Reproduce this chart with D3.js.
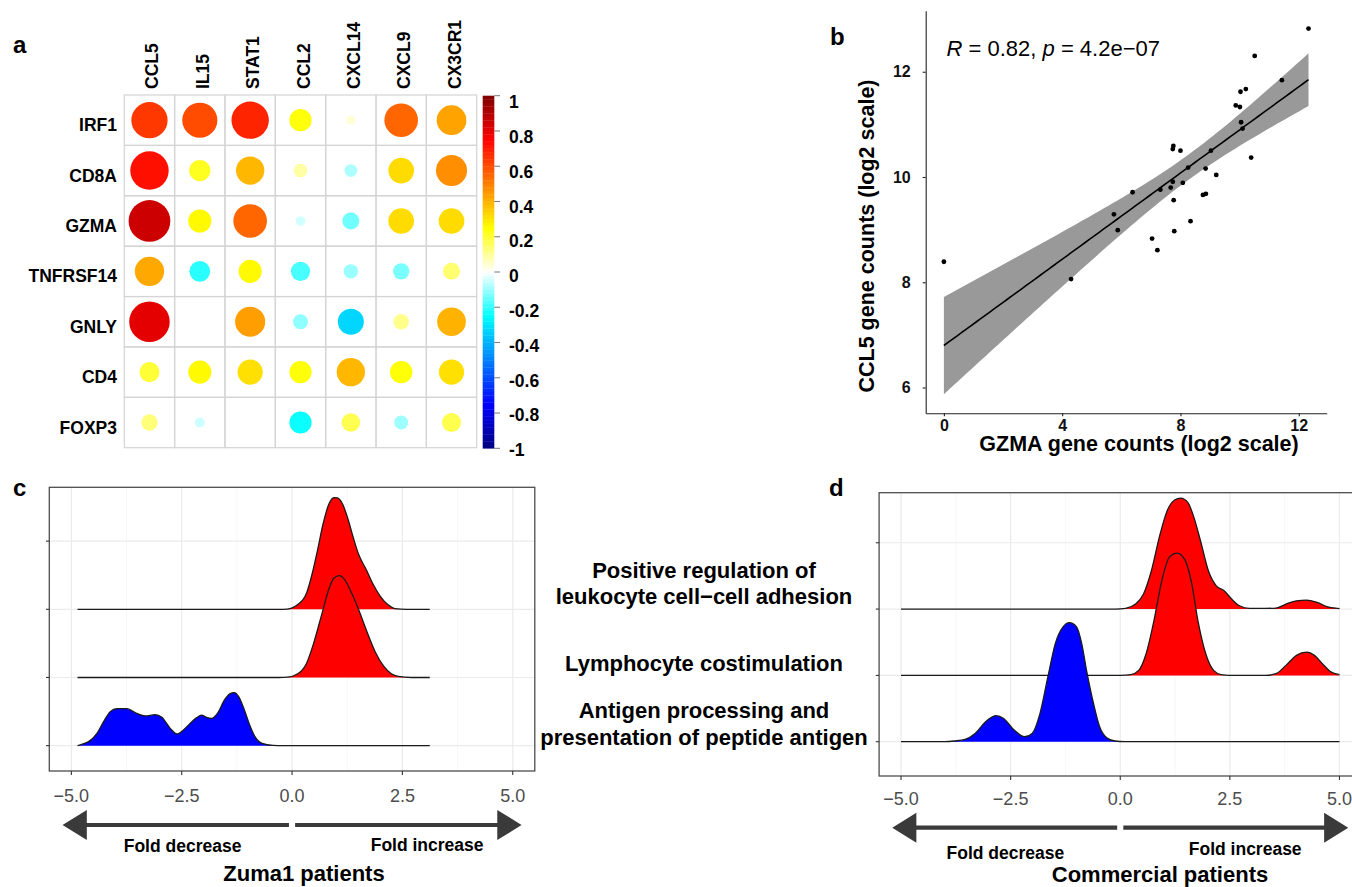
<!DOCTYPE html>
<html><head><meta charset="utf-8">
<script src="https://cdn.jsdelivr.net/npm/d3@7"></script>
<style>
body{margin:0;background:#fff}
svg{display:block;font-family:"Liberation Sans",Arial,Helvetica,sans-serif}
</style>
</head><body>
<svg id="fig" width="1352" height="887"></svg>
<script>
// ---------------- DATA ----------------
// panel a: correlation matrix
const corrRows = ["IRF1","CD8A","GZMA","TNFRSF14","GNLY","CD4","FOXP3"];
const corrCols = ["CCL5","IL15","STAT1","CCL2","CXCL14","CXCL9","CX3CR1"];
const corrValues = [
  [0.64, 0.60, 0.68, 0.24, 0.04, 0.55, 0.43],
  [0.72, 0.22, 0.39, 0.09, -0.08, 0.32, 0.47],
  [0.85, 0.26, 0.55, -0.045, -0.14, 0.32, 0.32],
  [0.42, -0.21, 0.26, -0.18, -0.10, -0.13, 0.14],
  [0.80, 0, 0.44, -0.11, -0.33, 0.115, 0.40],
  [0.195, 0.26, 0.31, 0.24, 0.39, 0.245, 0.31],
  [0.13, -0.05, 0, -0.24, 0.17, -0.095, 0.175]
];
const colorStops = [-1, -0.75, -0.5, -0.25, 0, 0.25, 0.5, 0.75, 1];
const colorRamp = ["#00007F","#0000FF","#007FFF","#00FFFF","#FFFFFF","#FFFF00","#FF7F00","#FF0000","#7F0000"];
const colorbarTicks = [-1,-0.8,-0.6,-0.4,-0.2,0,0.2,0.4,0.6,0.8,1];

// panel b: scatter GZMA vs CCL5 (log2 counts)
const gzma = [0, 4.30, 5.75, 5.88, 6.38, 7.04, 7.22, 7.32, 7.67, 7.74, 7.77, 7.79, 7.76, 7.74, 8.00, 8.08, 8.26, 8.34, 8.76, 8.86, 8.85, 9.03, 9.21, 9.87, 10.01, 10.03, 10.21, 10.05, 10.10, 10.39, 10.51, 11.43, 12.33];
const ccl5 = [8.39, 8.06, 9.29, 8.99, 9.71, 8.83, 8.61, 9.76, 9.80, 9.91, 9.56, 8.97, 10.59, 10.53, 10.50, 9.89, 10.18, 9.16, 9.66, 9.68, 10.16, 10.50, 10.04, 11.36, 11.33, 11.62, 11.67, 11.04, 10.92, 10.37, 12.30, 11.84, 12.82];
const scatterXTicks = [0, 4, 8, 12];
const scatterYTicks = [6, 8, 10, 12];
const tQuantile = 2.0395; // qt(0.975, df = 31)

// panels c/d: ridgelines  [fold change, density height in row units]
const pathways = ["Antigen processing and\npresentation of peptide antigen", "Lymphocyte costimulation", "Positive regulation of\nleukocyte cell\u2212cell adhesion"];
const zumaAntigen = [[-4.86,0],[-4.75,0.022],[-4.61,0.059],[-4.42,0.181],[-4.27,0.352],[-4.12,0.499],[-3.97,0.543],[-3.74,0.543],[-3.52,0.474],[-3.33,0.436],[-3.10,0.455],[-2.95,0.416],[-2.76,0.254],[-2.61,0.172],[-2.46,0.231],[-2.31,0.327],[-2.16,0.411],[-2.05,0.448],[-1.94,0.416],[-1.82,0.401],[-1.69,0.474],[-1.53,0.671],[-1.41,0.759],[-1.31,0.778],[-1.21,0.720],[-1.08,0.524],[-0.96,0.304],[-0.84,0.132],[-0.68,0.034],[-0.43,0.004],[-0.2,0],[3.12,0]];
const zumaCostim = [[-4.86,0],[-0.3,0],[-0.11,0.004],[0.13,0.054],[0.33,0.210],[0.49,0.504],[0.66,0.896],[0.83,1.288],[0.95,1.458],[1.07,1.493],[1.19,1.435],[1.35,1.238],[1.51,0.994],[1.68,0.700],[1.88,0.382],[2.08,0.162],[2.25,0.054],[2.41,0.015],[2.7,0],[3.12,0]];
const zumaAdhesion = [[-4.86,0],[-0.3,0],[-0.11,0.004],[0.13,0.069],[0.33,0.239],[0.46,0.533],[0.58,0.877],[0.70,1.244],[0.83,1.537],[0.95,1.640],[1.03,1.634],[1.15,1.537],[1.27,1.317],[1.39,1.047],[1.51,0.803],[1.68,0.583],[1.84,0.363],[2.00,0.191],[2.17,0.069],[2.33,0.010],[2.6,0],[3.12,0]];
const commAntigen = [[-5,0],[-4.0,0],[-3.78,0.011],[-3.54,0.035],[-3.31,0.125],[-3.07,0.302],[-2.83,0.392],[-2.66,0.351],[-2.42,0.176],[-2.18,0.075],[-2.01,0.125],[-1.83,0.427],[-1.65,0.980],[-1.48,1.483],[-1.30,1.735],[-1.16,1.795],[-1.00,1.735],[-0.88,1.483],[-0.77,1.081],[-0.61,0.578],[-0.47,0.226],[-0.29,0.050],[-0.12,0.011],[0.1,0],[5,0]];
const commCostim = [[-5,0],[0,0],[0.24,0.011],[0.42,0.075],[0.59,0.327],[0.77,0.830],[0.95,1.433],[1.12,1.784],[1.30,1.845],[1.48,1.735],[1.63,1.383],[1.77,0.830],[1.95,0.327],[2.13,0.075],[2.30,0.011],[2.48,0],[3.31,0],[3.55,0.026],[3.78,0.151],[4.02,0.302],[4.25,0.351],[4.43,0.302],[4.61,0.176],[4.79,0.060],[5.0,0.011]];
const commAdhesion = [[-5,0],[-0.1,0],[0.12,0.011],[0.35,0.075],[0.53,0.226],[0.71,0.578],[0.89,1.081],[1.07,1.483],[1.24,1.644],[1.38,1.674],[1.54,1.609],[1.68,1.383],[1.83,1.030],[2.01,0.578],[2.19,0.351],[2.37,0.276],[2.54,0.151],[2.72,0.050],[2.95,0.011],[3.31,0.011],[3.55,0.015],[3.78,0.075],[4.02,0.125],[4.25,0.136],[4.49,0.101],[4.73,0.035],[4.96,0.011],[5.0,0.008]];
const ridgeColors = ["#0000FF", "#FF0000", "#FF0000"];
const ridgeXTicks = [-5, -2.5, 0, 2.5, 5];
const ridgeXMinor = [-3.75, -1.25, 1.25, 3.75];
const ridgeYTicks = [1, 2, 3, 4];

// ---------------- DRAW ----------------
const svg = d3.select("#fig");
svg.append("rect").attr("width",1352).attr("height",887).attr("fill","#fff");

function panelLetter(t, x, y){
  svg.append("text").attr("x",x).attr("y",y).text(t)
    .attr("font-size",24).attr("font-weight","bold").attr("fill","#000");
}

// ===== Panel a =====
const gA = svg.append("g");
const xA = d3.scaleBand().domain(corrCols).range([124.3, 476.7]);
const yA = d3.scaleBand().domain(corrRows).range([95, 447.7]);
const corrColor = d3.scaleLinear().domain(colorStops).range(colorRamp);
corrRows.forEach((r,i)=>{
  corrCols.forEach((c,j)=>{
    gA.append("rect").attr("x",xA(c)).attr("y",yA(r))
      .attr("width",xA.bandwidth()).attr("height",yA.bandwidth())
      .attr("fill","none").attr("stroke","#d4d4d4").attr("stroke-width",1.2);
  });
});
corrRows.forEach((r,i)=>{
  corrCols.forEach((c,j)=>{
    const v = corrValues[i][j];
    if (!v) return;
    gA.append("circle")
      .attr("cx", xA(c)+xA.bandwidth()/2)
      .attr("cy", yA(r)+yA.bandwidth()/2)
      .attr("r", 0.45*Math.sqrt(Math.abs(v))*xA.bandwidth())
      .attr("fill", corrColor(v));
  });
});
corrCols.forEach(c=>{
  gA.append("text")
    .attr("transform",`translate(${xA(c)+xA.bandwidth()/2+9},89) rotate(-90)`)
    .attr("font-size",17.5).attr("font-weight","bold").text(c);
});
corrRows.forEach(r=>{
  gA.append("text").attr("x",117).attr("y",yA(r)+yA.bandwidth()/2+5)
    .attr("dy","0.35em").attr("text-anchor","end")
    .attr("font-size",17.5).attr("font-weight","bold").text(r);
});
// colorbar
const yCb = d3.scaleLinear().domain([-1,1]).range([448.3, 95.7]);
const nBands = 100;
d3.range(nBands).forEach(k=>{
  const v0 = -1 + 2*k/nBands, v1 = -1 + 2*(k+1)/nBands;
  gA.append("rect").attr("x",482.7).attr("width",11.6)
    .attr("y",yCb(v1)).attr("height",yCb(v0)-yCb(v1)+0.3)
    .attr("fill",corrColor((v0+v1)/2));
});
const yCbLab = d3.scaleLinear().domain([-1,1]).range([450, 102]);
colorbarTicks.forEach(t=>{
  gA.append("line").attr("x1",494.3).attr("x2",500).attr("y1",yCb(t)).attr("y2",yCb(t))
    .attr("stroke","#777").attr("stroke-width",1);
  gA.append("text").attr("x",509).attr("y",yCbLab(t)).attr("dy","0.35em")
    .attr("font-size",17.5).attr("font-weight","bold")
    .text(String(t));
});
panelLetter("a", 13, 53);

// ===== Panel b =====
const gB = svg.append("g");
const xB = d3.scaleLinear().domain([-0.615, 12.945]).range([925.7, 1326.7]);
const yB = d3.scaleLinear().domain([5.51, 13.16]).range([413.3, 10.7]);
// regression (lm) with 95% CI
const n = gzma.length;
const mx = d3.mean(gzma), my = d3.mean(ccl5);
let sxx=0, sxy=0;
for (let i=0;i<n;i++){ sxx += (gzma[i]-mx)**2; sxy += (gzma[i]-mx)*(ccl5[i]-my); }
const slope = sxy/sxx, icpt = my - slope*mx;
let sse=0; for (let i=0;i<n;i++){ sse += (ccl5[i]-(icpt+slope*gzma[i]))**2; }
const sres = Math.sqrt(sse/(n-2));
const xr = d3.extent(gzma);
const fitGrid = d3.range(0, 81).map(k=> xr[0] + (xr[1]-xr[0])*k/80);
const fit = fitGrid.map(x=>{
  const f = icpt + slope*x;
  const se = sres*Math.sqrt(1/n + (x-mx)**2/sxx);
  return {x, f, lo: f - tQuantile*se, hi: f + tQuantile*se};
});
gB.append("path").datum(fit)
  .attr("d", d3.area().x(d=>xB(d.x)).y0(d=>yB(d.lo)).y1(d=>yB(d.hi)))
  .attr("fill","#999999");
gB.append("path").datum(fit)
  .attr("d", d3.line().x(d=>xB(d.x)).y(d=>yB(d.f)))
  .attr("fill","none").attr("stroke","#000").attr("stroke-width",1.6);
gB.selectAll("circle.pt").data(gzma).enter().append("circle")
  .attr("cx",(d)=>xB(d)).attr("cy",(d,i)=>yB(ccl5[i])).attr("r",2.4).attr("fill","#000");
const axB = gB.append("g").attr("transform","translate(0,413.3)")
  .call(d3.axisBottom(xB).tickValues(scatterXTicks).tickSize(3).tickSizeOuter(0).tickPadding(3).tickFormat(d3.format("d")));
const ayB = gB.append("g").attr("transform","translate(925.7,0)")
  .call(d3.axisLeft(yB).tickValues(scatterYTicks).tickSize(3).tickSizeOuter(0).tickPadding(12).tickFormat(d3.format("d")));
[axB, ayB].forEach(a=>{
  a.selectAll("path,line").attr("stroke","#222").attr("stroke-width",1.1);
  a.selectAll("text").attr("font-size",16).attr("font-weight","bold").attr("fill","#111")
    .attr("font-family",'"Liberation Sans",Arial,sans-serif');
});
gB.append("text").attr("x",1139).attr("y",451).attr("text-anchor","middle")
  .attr("font-size",21.5).attr("font-weight","bold").text("GZMA gene counts (log2 scale)");
gB.append("text").attr("transform","translate(873.5,236) rotate(-90)").attr("text-anchor","middle")
  .attr("font-size",21.5).attr("font-weight","bold").text("CCL5 gene counts (log2 scale)");
const ann = gB.append("text").attr("x",946.5).attr("y",56).attr("font-size",22);
ann.append("tspan").attr("font-style","italic").text("R");
ann.append("tspan").text(" = 0.82, ");
ann.append("tspan").attr("font-style","italic").text("p");
ann.append("tspan").text(" = 4.2e\u221207");
panelLetter("b", 830, 45);

// ===== Ridge panels =====
function ridgePanel(opt){
  const g = svg.append("g");
  const {xs, ys, left, right, top, bottom, series} = opt;
  // grid
  ridgeXMinor.forEach(v=> g.append("line").attr("x1",xs(v)).attr("x2",xs(v)).attr("y1",top).attr("y2",bottom)
      .attr("stroke","#f3f3f3").attr("stroke-width",0.7));
  ridgeXTicks.forEach(v=> g.append("line").attr("x1",xs(v)).attr("x2",xs(v)).attr("y1",top).attr("y2",bottom)
      .attr("stroke","#ebebeb").attr("stroke-width",1.2));
  ridgeYTicks.forEach(k=> g.append("line").attr("x1",left).attr("x2",right).attr("y1",ys(k)).attr("y2",ys(k))
      .attr("stroke","#ebebeb").attr("stroke-width",1.2));
  // ridges (top first so lower rows overlay)
  for (let k=series.length-1;k>=0;k--){
    const row = k+1, pts = series[k];
    g.append("path").datum(pts)
      .attr("d", d3.area().curve(d3.curveMonotoneX).x(d=>xs(d[0])).y0(ys(row)).y1(d=>ys(row+d[1])))
      .attr("fill", ridgeColors[k]);
    g.append("path").datum(pts)
      .attr("d", d3.line().curve(d3.curveMonotoneX).x(d=>xs(d[0])).y(d=>ys(row+d[1])))
      .attr("fill","none").attr("stroke","#1a1a1a").attr("stroke-width",1.3);
  }
  // border
  g.append("rect").attr("x",left).attr("y",top).attr("width",right-left).attr("height",bottom-top)
    .attr("fill","none").attr("stroke","#4d4d4d").attr("stroke-width",1.3);
  // ticks
  ridgeYTicks.forEach(k=> g.append("line").attr("x1",left-3.3).attr("x2",left).attr("y1",ys(k)).attr("y2",ys(k))
      .attr("stroke","#333").attr("stroke-width",1.1));
  ridgeXTicks.forEach(v=>{
    g.append("line").attr("x1",xs(v)).attr("x2",xs(v)).attr("y1",bottom).attr("y2",bottom+4)
      .attr("stroke","#333").attr("stroke-width",1.1);
    g.append("text").attr("x",xs(v)).attr("y",opt.tickLabelY).attr("text-anchor","middle")
      .attr("font-size",18).attr("fill","#4d4d4d").text(d3.format(".1f")(v));
  });
  // arrows
  const yc = opt.arrowY, hh = 15, sh = 2.1;
  const L = [[-5.2,0],[-4.65,-hh],[-4.65,-sh],[-0.07,-sh],[-0.07,sh],[-4.65,sh],[-4.65,hh]];
  [1,-1].forEach(s=>{
    g.append("path").attr("d", "M" + L.map(p=>`${xs(s*p[0])},${yc+p[1]}`).join("L") + "Z")
      .attr("fill","#3a3a3a");
  });
  g.append("text").attr("x",xs(opt.decX)).attr("y",opt.decY).attr("text-anchor","middle")
    .attr("font-size",17.5).attr("font-weight","bold").text("Fold decrease");
  g.append("text").attr("x",xs(opt.incX)).attr("y",opt.incY).attr("text-anchor","middle")
    .attr("font-size",17.5).attr("font-weight","bold").text("Fold increase");
  g.append("text").attr("x",opt.titleX).attr("y",opt.titleY).attr("text-anchor","middle")
    .attr("font-size",22).attr("font-weight","bold").text(opt.title);
  return g;
}

const xC = d3.scaleLinear().domain([-5.5,5.5]).range([49.3, 534.8]);
const yC = d3.scaleLinear().domain([0.628, 4.79]).range([771, 487.3]);
ridgePanel({xs:xC, ys:yC, left:49.3, right:534.8, top:487.3, bottom:771,
  series:[zumaAntigen, zumaCostim, zumaAdhesion], tickLabelY:801.5, arrowY:825,
  decX:-2.48, decY:852, incX:3.06, incY:850.5, titleX:304, titleY:881, title:"Zuma1 patients"});
panelLetter("c", 13, 496);

const xD = d3.scaleLinear().domain([-5.5,5.5]).range([879.1, 1361.4]);
const yD = d3.scaleLinear().domain([0.483, 4.755]).range([776, 492.7]);
const gD = ridgePanel({xs:xD, ys:yD, left:879.1, right:1361.4, top:492.7, bottom:776,
  series:[commAntigen, commCostim, commAdhesion], tickLabelY:805, arrowY:827.7,
  decX:-2.62, decY:859, incX:2.85, incY:855.3, titleX:1160, titleY:881.5, title:"Commercial patients"});
// y-axis labels (shared pathway names)
const labelNudge = [7.6, 0, 0];
pathways.forEach((p,k)=>{
  const lines = p.split("\n");
  lines.forEach((ln,i)=>{
    gD.append("text").attr("x",704).attr("y", yD(k+1) - 4.7 + labelNudge[k] - (lines.length-1-i)*26.7)
      .attr("text-anchor","middle").attr("font-size",22).attr("font-weight","bold").text(ln);
  });
});
panelLetter("d", 829, 496);
</script>
</body></html>
